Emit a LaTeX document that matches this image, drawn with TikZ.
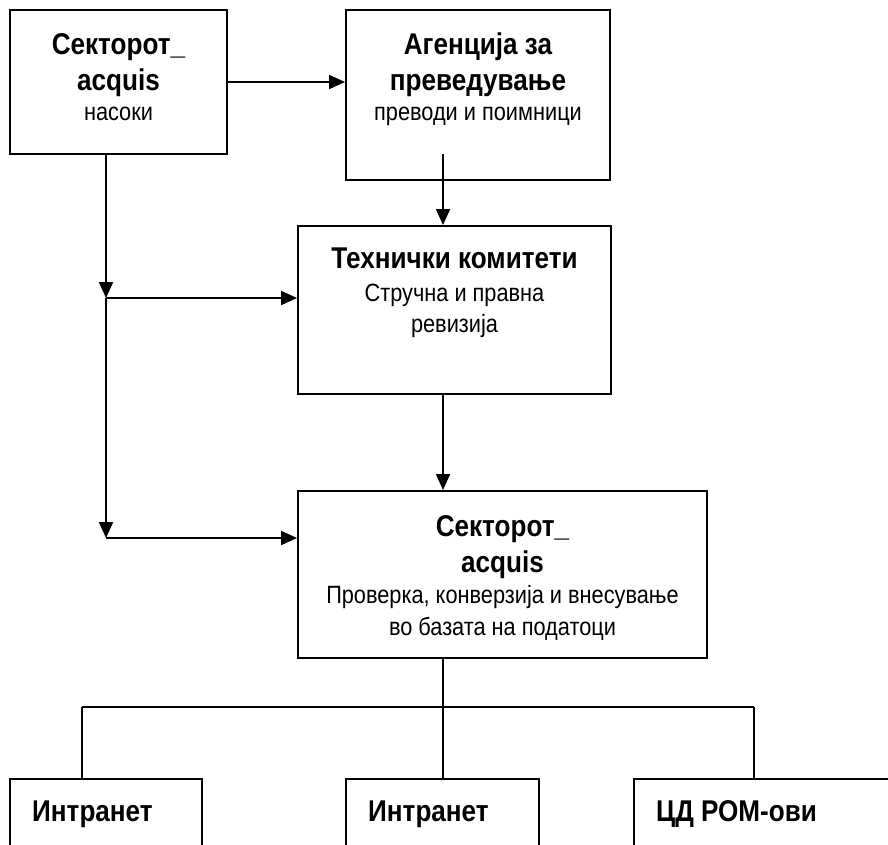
\documentclass[tikz,border=0pt]{standalone}
\usepackage{fontspec}
\setmainfont{Liberation Sans}[FakeStretch=0.87]
\usetikzlibrary{arrows.meta}
\tikzset{
  box/.style={draw, line width=2pt, inner sep=0pt, fill=none},
  conn/.style={line width=2pt},
  arr/.style={line width=2pt, -{Triangle[length=16pt,width=14pt]}},
  tb/.style={font=\fontsize{30}{34}\selectfont\bfseries, inner sep=0pt, anchor=base},
  tr/.style={font=\fontsize{25}{29}\selectfont, inner sep=0pt, anchor=base},
}
\begin{document}
\begin{tikzpicture}[x=1pt,y=-1pt]
\useasboundingbox (0,0) rectangle (888,845);
\clip (0,0) rectangle (888,845);
\fill[white] (0,0) rectangle (888,845);

% boxes
\node[box, minimum width=217pt, minimum height=144pt] (b1) at (118.5,82) {};
\node[box, minimum width=264pt, minimum height=169.5pt] (b2) at (478,95.25) {};
\node[box, minimum width=313pt, minimum height=168pt] (b3) at (454.5,310) {};
\node[box, minimum width=409pt, minimum height=167pt] (b4) at (502.5,574.5) {};
\node[box, minimum width=192pt, minimum height=121pt] (b5) at (106,839.5) {};
\node[box, minimum width=193pt, minimum height=121pt] (b6) at (442.5,839.5) {};
\node[box, minimum width=316pt, minimum height=121pt] (b7) at (792,839.5) {};

% texts
\node[tb] (t11) at (118.5,55) {Секторот\_};
\node[tb] (t12) at (118.5,91) {acquis};
\node[tr] (t13) at (118.5,121) {насоки};

\node[tb] (t21) at (478,55) {Агенција за};
\node[tb] (t22) at (478,91) {преведување};
\node[tr] (t23) at (478,121) {преводи и поимници};

\node[tb] (t31) at (454.5,268) {Технички комитети};
\node[tr] (t32) at (454.5,301) {Стручна и правна};
\node[tr] (t33) at (454.5,332) {ревизија};

\node[tb] (t41) at (502.5,536) {Секторот\_};
\node[tb] (t42) at (502.5,572) {acquis};
\node[tr] (t43) at (502.5,603) {Проверка, конверзија и внесување};
\node[tr] (t44) at (502.5,635) {во базата на податоци};

\node[tb, anchor=base west] (t5) at (32,821) {Интранет};
\node[tb, anchor=base west] (t6) at (368,821) {Интранет};
\node[tb, anchor=base west] (t7) at (656,821) {ЦД РОМ-ови};

% coordinates
\coordinate (c23) at (443,154);
\coordinate (j1) at (106,298);
\coordinate (j2) at (106,538);
\coordinate (bus) at (443,707);
\coordinate (busL) at (82,707);
\coordinate (busR) at (754,707);

% connectors
\draw[arr] (b1.east) -- (b1.east -| b2.west);
\draw[arr] (c23) -- (c23 |- b3.north);
\draw[arr] (c23 |- b3.south) -- (c23 |- b4.north);
\draw[arr] (b1.south -| j1) -- (j1);
\draw[arr] (j1) -- (j1 -| b3.west);
\draw[arr] (j1) -- (j2);
\draw[arr] (j2) -- (j2 -| b4.west);

\draw[conn] (c23 |- b4.south) -- (bus);
\draw[conn] (busL) -- (busR);
\draw[conn] (busL) -- (busL |- b5.north);
\draw[conn] (bus) -- (bus |- b6.north);
\draw[conn] (busR) -- (busR |- b7.north);
\end{tikzpicture}
\end{document}
